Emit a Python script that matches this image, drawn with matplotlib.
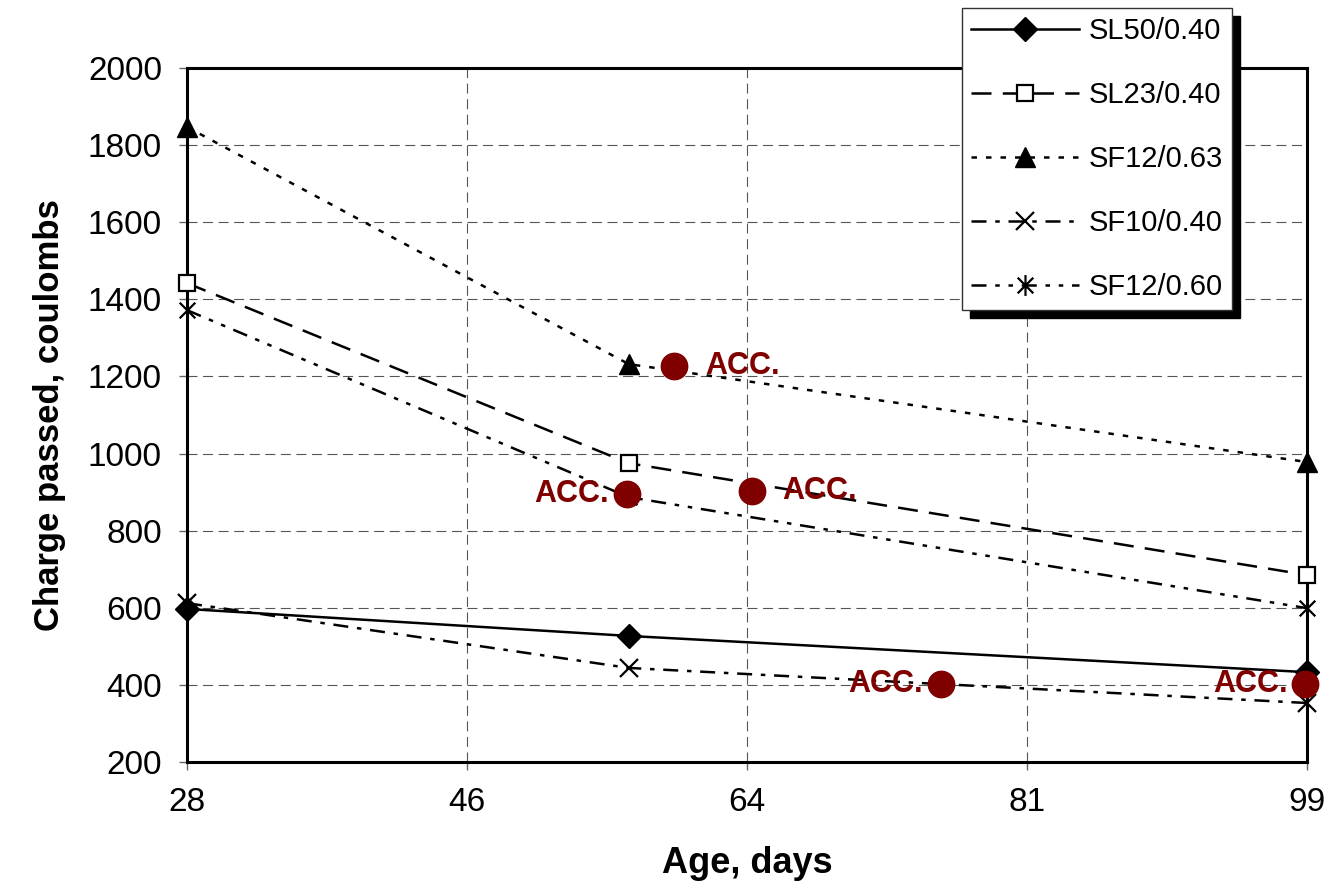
import matplotlib
matplotlib.use("Agg")
import matplotlib.pyplot as plt
import numpy as np
from matplotlib.path import Path

plt.rcParams["font.family"] = ["Liberation Sans", "DejaVu Sans"]

# data
ages = [28, 56, 99]
sl50_040 = [597, 527, 433]
sl23_040 = [1442, 975, 685]
sf12_063 = [1847, 1232, 978]
sf10_040 = [612, 444, 353]
sf12_060 = [1372, 887, 599]

acc_age = [58.9, 55.9, 63.8, 75.8, 98.9]
acc_charge = [1228, 895, 903, 402, 402]
acc_side = ["right", "left", "right", "left", "left"]

x_tick_labels = ["28", "46", "64", "81", "99"]
y_ticks = list(range(200, 2001, 200))

# excel-like asterisk marker: X with a vertical bar
asterisk = Path(
    [(0, -1), (0, 1), (-0.75, -0.75), (0.75, 0.75), (-0.75, 0.75), (0.75, -0.75)],
    [Path.MOVETO, Path.LINETO] * 3,
)

lw = 1.8
series = [
    ("SL50/0.40", sl50_040, "-", dict(marker="D", ms=12, mfc="k", mec="k")),
    ("SL23/0.40", sl23_040, (0, (8, 4.5)), dict(marker="s", ms=11, mfc="white", mec="k", mew=1.6)),
    ("SF12/0.63", sf12_063, (0, (2.2, 3.6)), dict(marker="^", ms=14, mfc="k", mec="k")),
    ("SF10/0.40", sf10_040, (0, (6, 3.5, 1.8, 3.5)), dict(marker="x", ms=13, mec="k", mew=1.6)),
    ("SF12/0.60", sf12_060, (0, (6, 3.5, 1.8, 3.5, 1.8, 3.5)), dict(marker=asterisk, ms=15, mfc="none", mec="k", mew=1.6)),
]

fig = plt.figure(figsize=(13.4, 8.96), dpi=100)
ax = fig.add_axes([187 / 1340, 1 - 762 / 896, 1120 / 1340, 694 / 896])

for label, values, ls, mk in series:
    ax.plot(ages, values, color="k", linestyle=ls, linewidth=lw, label=label,
            clip_on=False, zorder=3, **mk)

ax.plot(acc_age, acc_charge, linestyle="none", marker="o", ms=19,
        color="#800000", zorder=4, clip_on=False)
for xa, ya, side in zip(acc_age, acc_charge, acc_side):
    dx = 22 if side == "right" else -13
    ax.annotate("ACC.", (xa, ya), xytext=(dx, 0), textcoords="offset points",
                ha="left" if side == "right" else "right", va="center",
                fontsize=22, fontweight="bold", color="#800000", zorder=4)

ax.set_xlim(28, 99)
ax.set_ylim(200, 2000)
ax.set_xticks(np.linspace(28, 99, 5))
ax.set_xticklabels(x_tick_labels)
ax.set_yticks(y_ticks)
ax.tick_params(axis="both", direction="out", length=6, width=1, color="#666666",
               labelsize=24)
ax.tick_params(axis="x", pad=12)
ax.tick_params(axis="y", pad=12)

ax.grid(True, color="#555555", linestyle=(0, (9, 5)), linewidth=0.8)
ax.set_axisbelow(True)
for spine in ax.spines.values():
    spine.set_linewidth(2.2)
    spine.set_color("k")

ax.set_xlabel("Age, days", fontsize=26, fontweight="bold", labelpad=20)
ax.set_ylabel("Charge passed, coulombs", fontsize=25, fontweight="bold", labelpad=16)

leg = ax.legend(
    loc="upper left",
    bbox_to_anchor=(962 / 1340, 1 - 8 / 896),
    bbox_transform=fig.transFigure,
    fontsize=21,
    frameon=True,
    fancybox=False,
    edgecolor="#333333",
    framealpha=1,
    borderaxespad=0,
    borderpad=0.3,
    handlelength=3.7,
    handletextpad=0.35,
    labelspacing=1.24,
    numpoints=1,
    shadow=dict(ox=6, oy=-6, color="black", alpha=1),
)
leg.get_frame().set_linewidth(1.0)

fig.savefig("out.png", dpi=100)
